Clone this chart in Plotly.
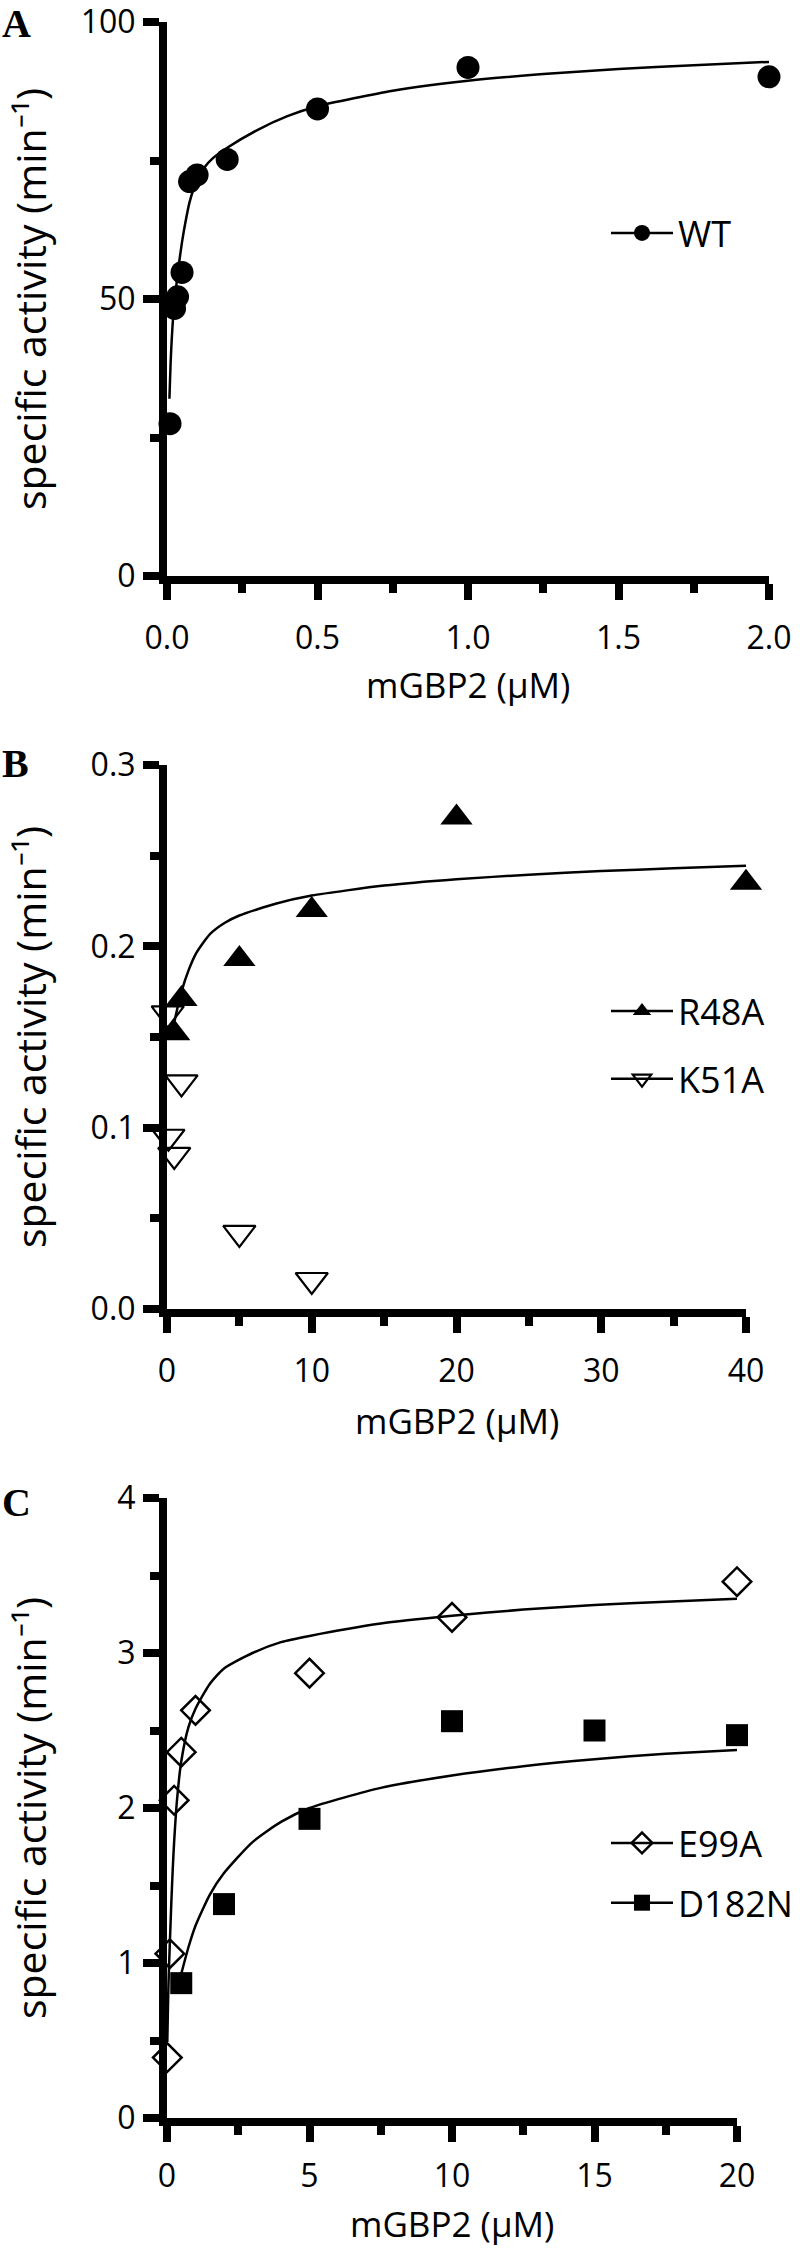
import plotly.graph_objects as go

# ---------------- data ----------------
# Panel A : WT
wt_x = [0.01, 0.025, 0.035, 0.05, 0.075, 0.1, 0.2, 0.5, 1.0, 2.0]
wt_y = [27.5, 48.3, 50.4, 54.8, 71.2, 72.4, 75.2, 84.3, 91.8, 90.1]
wt_fit_x = [0.008, 0.012, 0.016, 0.02, 0.025, 0.03, 0.04, 0.05, 0.06, 0.075, 0.1,
            0.125, 0.15, 0.2, 0.3, 0.4, 0.5, 0.75, 1.0, 1.25, 1.5, 1.75, 2.0]
wt_fit_y = [32.0, 38.5, 43.0, 46.5, 49.5, 52.0, 56.5, 60.3, 63.5, 67.5, 71.5,
            73.8, 75.3, 77.3, 80.5, 83.0, 84.8, 87.6, 89.4, 90.6, 91.5, 92.2, 92.8]

# Panel B : R48A, K51A
r48a_x = [0.5, 1, 5, 10, 20, 40]
r48a_y = [0.152, 0.171, 0.193, 0.220, 0.271, 0.235]
k51a_x = [0.05, 0.1, 0.5, 1, 5, 10]
k51a_y = [0.163, 0.095, 0.085, 0.125, 0.042, 0.016]
r48a_fit_x = [0.5, 0.75, 1, 1.5, 2, 2.5, 3, 4, 5, 7.5, 10, 15, 20, 25, 30, 35, 40]
r48a_fit_y = [0.158, 0.167, 0.175, 0.187, 0.196, 0.202, 0.207, 0.213, 0.217, 0.2235,
              0.228, 0.2335, 0.237, 0.2395, 0.2415, 0.243, 0.2445]

# Panel C : E99A, D182N
e99a_x = [0.01, 0.1, 0.25, 0.5, 1, 5, 10, 20]
e99a_y = [0.39, 1.06, 2.05, 2.36, 2.63, 2.87, 3.23, 3.46]
d182n_x = [0.5, 2, 5, 10, 15, 20]
d182n_y = [0.87, 1.38, 1.93, 2.56, 2.50, 2.47]
e99a_fit_x = [0.01, 0.03, 0.05, 0.075, 0.1, 0.15, 0.2, 0.25, 0.35, 0.5, 0.75, 1, 1.5,
              2, 3, 4, 5, 7.5, 10, 12.5, 15, 17.5, 20]
e99a_fit_y = [0.49, 0.68, 0.85, 1.0, 1.13, 1.38, 1.6, 1.78, 2.05, 2.3, 2.52, 2.64, 2.8,
              2.9, 3.0, 3.07, 3.11, 3.19, 3.24, 3.28, 3.31, 3.33, 3.35]
d182n_fit_x = [0.5, 0.75, 1, 1.5, 2, 3, 4, 5, 7.5, 10, 12.5, 15, 17.5, 20]
d182n_fit_y = [0.93, 1.1, 1.24, 1.44, 1.58, 1.78, 1.91, 2.0, 2.13, 2.21, 2.27, 2.315,
               2.35, 2.375]

x_title = "mGBP2 (µM)"
y_title = "specific activity (min⁻¹)"
panel_letters = ["A", "B", "C"]

# ---------------- styling / layout ----------------
W, H = 800, 2248
FONT = "Open Sans"
TICK_SIZE = 32
XTITLE_SIZE = 35
YTITLE_SIZE = 41
LEG_SIZE = 36
AXW = 8


def fx(p):
    return p / W


def fy(p):
    return 1 - p / H


fig = go.Figure()

line_style = dict(color="black", width=2.5, shape="spline", smoothing=0.6)
circle_m = dict(symbol="circle", size=23, color="black")
tri_up_m = dict(symbol="triangle-up", size=28, color="black")
tri_dn_m = dict(symbol="triangle-down-open", size=28, color="black",
                line=dict(width=2.2, color="black"))
diam_m = dict(symbol="diamond-open", size=22, color="black",
              line=dict(width=2.5, color="black"))
sq_m = dict(symbol="square", size=22, color="black")
leg_line = dict(color="black", width=2.5)

# Panel A
fig.add_trace(go.Scatter(x=wt_fit_x, y=wt_fit_y, mode="lines", line=line_style,
                         xaxis="x", yaxis="y", showlegend=False, hoverinfo="skip"))
fig.add_trace(go.Scatter(x=wt_x, y=wt_y, mode="markers", name="WT", marker=circle_m,
                         xaxis="x", yaxis="y", showlegend=False, cliponaxis=False))
fig.add_trace(go.Scatter(x=[None], y=[None], mode="lines+markers", name="WT",
                         line=leg_line, marker=circle_m,
                         xaxis="x", yaxis="y", legend="legend"))

# Panel B
fig.add_trace(go.Scatter(x=r48a_fit_x, y=r48a_fit_y, mode="lines", line=line_style,
                         xaxis="x2", yaxis="y2", showlegend=False, hoverinfo="skip"))
fig.add_trace(go.Scatter(x=r48a_x, y=r48a_y, mode="markers", name="R48A",
                         marker=tri_up_m, xaxis="x2", yaxis="y2", showlegend=False,
                         cliponaxis=False))
fig.add_trace(go.Scatter(x=k51a_x, y=k51a_y, mode="markers", name="K51A",
                         marker=tri_dn_m, xaxis="x2", yaxis="y2", showlegend=False,
                         cliponaxis=False))
fig.add_trace(go.Scatter(x=[None], y=[None], mode="lines+markers", name="R48A",
                         line=leg_line, marker=tri_up_m,
                         xaxis="x2", yaxis="y2", legend="legend2", legendgroup="b1"))
fig.add_trace(go.Scatter(x=[None], y=[None], mode="lines+markers", name="K51A",
                         line=leg_line, marker=tri_dn_m,
                         xaxis="x2", yaxis="y2", legend="legend2", legendgroup="b2"))

# Panel C
fig.add_trace(go.Scatter(x=e99a_fit_x, y=e99a_fit_y, mode="lines", line=line_style,
                         xaxis="x3", yaxis="y3", showlegend=False, hoverinfo="skip"))
fig.add_trace(go.Scatter(x=d182n_fit_x, y=d182n_fit_y, mode="lines", line=line_style,
                         xaxis="x3", yaxis="y3", showlegend=False, hoverinfo="skip"))
fig.add_trace(go.Scatter(x=e99a_x, y=e99a_y, mode="markers", name="E99A",
                         marker=diam_m, xaxis="x3", yaxis="y3", showlegend=False,
                         cliponaxis=False))
fig.add_trace(go.Scatter(x=d182n_x, y=d182n_y, mode="markers", name="D182N",
                         marker=sq_m, xaxis="x3", yaxis="y3", showlegend=False,
                         cliponaxis=False))
fig.add_trace(go.Scatter(x=[None], y=[None], mode="lines+markers", name="E99A",
                         line=leg_line, marker=diam_m,
                         xaxis="x3", yaxis="y3", legend="legend3", legendgroup="c1"))
fig.add_trace(go.Scatter(x=[None], y=[None], mode="lines+markers", name="D182N",
                         line=leg_line, marker=sq_m,
                         xaxis="x3", yaxis="y3", legend="legend3", legendgroup="c2"))

tickfont = dict(family=FONT, size=TICK_SIZE, color="black")


def xaxis(domain, rng, dtick, minor, fmt, anchor, standoff=11):
    return dict(domain=domain, range=rng, anchor=anchor, showgrid=False, zeroline=False,
                showline=True, linecolor="black", linewidth=AXW,
                ticks="outside", ticklen=16, tickwidth=AXW, tickcolor="black",
                tick0=0, dtick=dtick, tickformat=fmt, tickfont=tickfont,
                ticklabelstandoff=standoff, automargin=False, ticklabeloverflow="allow",
                minor=dict(ticks="outside", dtick=minor, tick0=0, ticklen=9,
                           tickwidth=AXW, tickcolor="black", showgrid=False))


def yaxis(domain, rng, dtick, minor, fmt, anchor):
    return dict(domain=domain, range=rng, anchor=anchor, showgrid=False, zeroline=False,
                showline=True, linecolor="black", linewidth=AXW,
                ticks="outside", ticklen=16, tickwidth=AXW, tickcolor="black",
                tick0=0, dtick=dtick, tickformat=fmt, tickfont=tickfont,
                ticklabelstandoff=1, automargin=False, ticklabeloverflow="allow",
                minor=dict(ticks="outside", dtick=minor, tick0=0, ticklen=9,
                           tickwidth=AXW, tickcolor="black", showgrid=False))


# pixel geometry of the three panels
A_top, A_bot = 22, 576
B_top, B_bot = 765, 1309
C_top, C_bot = 1498, 2118
X_left = 167
A_right, B_right, C_right = 769, 746, 737
xtitle_y = [684, 1420, 2223]

leg_common = dict(font=dict(family=FONT, size=LEG_SIZE, color="black"),
                  bgcolor="rgba(0,0,0,0)", xanchor="left", yanchor="middle",
                  traceorder="grouped", itemwidth=62, borderwidth=0)

fig.update_layout(
    width=W, height=H,
    margin=dict(l=0, r=0, t=0, b=0, pad=0, autoexpand=False),
    paper_bgcolor="white", plot_bgcolor="white",
    font=dict(family=FONT, color="black"),
    xaxis=xaxis([fx(X_left), fx(A_right)], [0, 2], 0.5, 0.25, ".1f", "y"),
    yaxis=yaxis([fy(A_bot), fy(A_top)], [0, 100], 50, 25, "d", "x"),
    xaxis2=xaxis([fx(X_left), fx(B_right)], [0, 40], 10, 5, "d", "y2"),
    yaxis2=yaxis([fy(B_bot), fy(B_top)], [0, 0.3], 0.1, 0.05, ".1f", "x2"),
    xaxis3=xaxis([fx(X_left), fx(C_right)], [0, 20], 5, 2.5, "d", "y3", standoff=7),
    yaxis3=yaxis([fy(C_bot), fy(C_top)], [0, 4], 1, 0.5, "d", "x3"),
    legend=dict(x=fx(606), y=fy(233), **leg_common),
    legend2=dict(x=fx(606), y=fy(1045), tracegroupgap=18, **leg_common),
    legend3=dict(x=fx(606), y=fy(1873), tracegroupgap=10, **leg_common),
)

annotations = []
for letter, yc in zip(panel_letters, (24, 763, 1502)):
    annotations.append(dict(text=letter, xref="paper", yref="paper",
                            x=0, y=fy(yc), xanchor="left", yanchor="middle",
                            showarrow=False,
                            font=dict(family="Liberation Serif", size=40, color="black",
                                      weight="bold")))
for top, bot in ((A_top, A_bot), (B_top, B_bot), (C_top, C_bot)):
    annotations.append(dict(text=y_title, xref="paper", yref="paper",
                            x=fx(30), y=fy((top + bot) / 2), xanchor="center",
                            yanchor="middle", textangle=-90, showarrow=False,
                            font=dict(family=FONT, size=YTITLE_SIZE, color="black")))
for right, yc in zip((A_right, B_right, C_right), xtitle_y):
    annotations.append(dict(text=x_title, xref="paper", yref="paper",
                            x=fx((X_left + right) / 2), y=fy(yc), xanchor="center",
                            yanchor="middle", showarrow=False,
                            font=dict(family=FONT, size=XTITLE_SIZE, color="black")))
fig.update_layout(annotations=annotations)

fig.write_html("out.html",
               config={"displayModeBar": False},
               post_script="document.body.style.margin='0px';"
                           "document.body.style.overflow='hidden';")
